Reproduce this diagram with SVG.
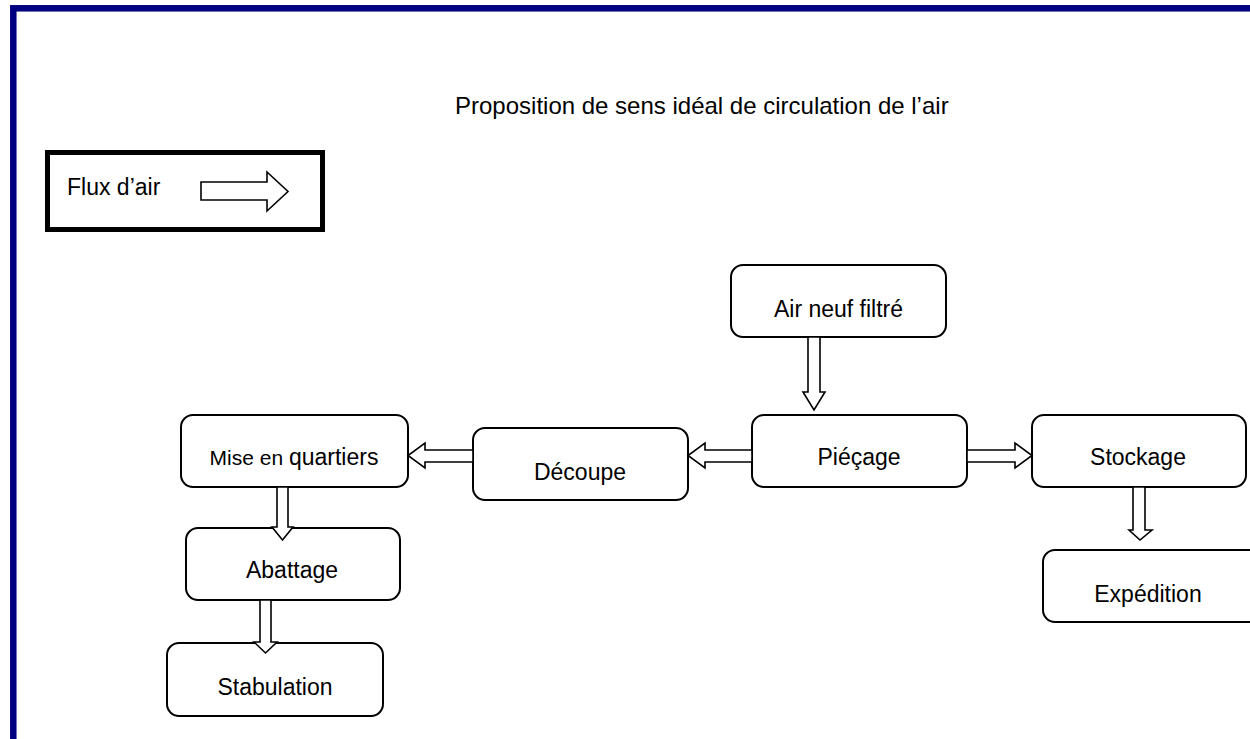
<svg xmlns="http://www.w3.org/2000/svg" width="1250" height="739" viewBox="0 0 1250 739">
<style>
.node{fill:#fff;stroke:#000;stroke-width:2}
.lbl{font-family:"Liberation Sans",Arial,sans-serif;font-size:23px;fill:#000;text-anchor:middle}
.arr{fill:#fff;stroke:#000;stroke-width:1.6;stroke-linejoin:miter}
</style>
<rect x="0" y="0" width="1250" height="739" fill="#fff"/>
<rect x="13.3" y="8.3" width="1300" height="800" fill="none" stroke="#000080" stroke-width="6.5"/>
<text x="455" y="114" font-family="Liberation Sans, Arial, sans-serif" font-size="24" fill="#000">Proposition de sens idéal de circulation de l’air</text>
<g id="legend">
<rect x="47.5" y="152.5" width="275" height="77" fill="#fff" stroke="#000" stroke-width="5"/>
<text x="67" y="195" font-family="Liberation Sans, Arial, sans-serif" font-size="23" fill="#000">Flux d’air</text>
<polygon class="arr" points="201,182 267,182 267,172 288,191.5 267,211 267,200 201,200"/>
</g>
<g id="air-neuf"><rect class="node" x="731" y="265" width="215" height="72" rx="12"/><text class="lbl" x="838.5" y="317">Air neuf filtré</text></g>
<g id="piegeage"><rect class="node" x="752" y="415" width="215" height="72" rx="12"/><text class="lbl" x="859" y="465">Piéçage</text></g>
<g id="decoupe"><rect class="node" x="473" y="428" width="215" height="72" rx="12"/><text class="lbl" x="580" y="480">Découpe</text></g>
<g id="mise-en-quartiers"><rect class="node" x="181" y="415" width="227" height="72" rx="12"/><text class="lbl" x="294" y="465"><tspan font-size="21">Mise en </tspan>quartiers</text></g>
<g id="abattage"><rect class="node" x="186" y="528" width="214" height="72" rx="12"/><text class="lbl" x="292" y="578">Abattage</text></g>
<g id="stabulation"><rect class="node" x="167" y="643" width="216" height="73" rx="12"/><text class="lbl" x="275" y="695">Stabulation</text></g>
<g id="stockage"><rect class="node" x="1032" y="415" width="214" height="72" rx="12"/><text class="lbl" x="1138" y="465">Stockage</text></g>
<g id="expedition"><rect class="node" x="1043" y="550" width="220" height="72" rx="12"/><text class="lbl" x="1148" y="602">Expédition</text></g>
<g id="connectors">
<polygon class="arr" points="808,337 820,337 820,392 825,392 814,410 803,392 808,392"/>
<polygon class="arr" points="752,450 705,450 705,443 688,455.5 705,468 705,462 752,462"/>
<polygon class="arr" points="473,450 425,450 425,443 408,455.5 425,468 425,462 473,462"/>
<polygon class="arr" points="967,450 1015,450 1015,443 1032,455.5 1015,468 1015,462 967,462"/>
<polygon class="arr" points="277,487 288,487 288,527 293,527 282.5,540 272,527 277,527"/>
<polygon class="arr" points="260,600 271,600 271,642 277,642 265.5,653 254,642 260,642"/>
<polygon class="arr" points="1133,487 1145,487 1145,530 1152,530 1140,540 1129,530 1133,530"/>
</g>
</svg>
